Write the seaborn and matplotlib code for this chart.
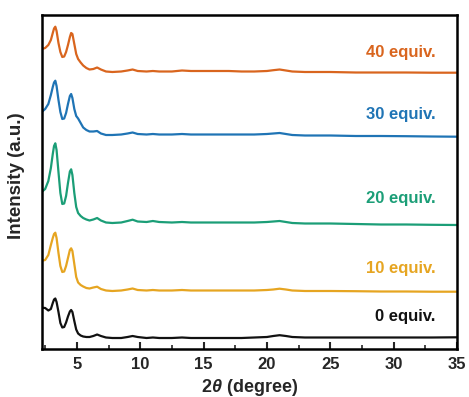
import matplotlib
matplotlib.use("Agg")
import matplotlib.pyplot as plt
import seaborn as sns
import pandas as pd
from matplotlib.ticker import MultipleLocator

# ---- data ----
two_theta = [2.25, 2.5, 2.75, 2.95, 3.1, 3.2, 3.3, 3.4, 3.55, 3.7, 3.85, 4.0, 4.15, 4.3,
             4.45, 4.55, 4.65, 4.8, 4.95, 5.1, 5.3, 5.5, 5.75, 6.0, 6.3, 6.6, 6.9, 7.3,
             7.8, 8.5, 9.0, 9.4, 9.8, 10.5, 11.0, 11.5, 12.5, 13.3, 14, 15, 16, 17, 18,
             19, 20, 20.5, 21, 21.5, 22, 23, 25, 27, 29, 31, 33, 35]

equiv_40 = [300, 301, 304, 309, 316, 320.5, 322.3, 318, 306, 297, 292, 292.5, 297, 304,
            312, 316, 315, 305, 295, 290, 286.5, 283.5, 281, 279.5, 280, 281.5, 279.5, 277.5,
            277, 277.5, 278.5, 279.5, 278, 277.5, 278, 277.5, 277.5, 278.5, 278, 278, 278, 278, 277.5,
            277.5, 278, 278.8, 279.5, 278.5, 277.5, 277, 277, 276.5, 276.5, 276.5, 276.3, 276.3]

equiv_30 = [237.3, 240, 245, 254, 262, 266.5, 268.3, 263, 249, 237, 230, 230.5, 236, 245,
            253, 255, 251, 240, 233, 230.5, 226, 221.5, 219, 217.5, 217.5, 218, 215.5, 214,
            214, 214.5, 215.5, 216.5, 215, 214.5, 215, 214.5, 214.5, 215, 214.5, 214.5, 214.5, 214.5, 214.5,
            214.5, 215, 215.5, 216, 215, 214, 213.5, 213.5, 213, 213, 212.8, 212.5, 212.3]

equiv_20 = [157.3, 160, 168, 181, 195, 203, 205.7, 199, 177, 156, 145, 145.5, 153, 166,
            177.5, 179.7, 174, 156, 142, 136, 133, 131, 129.5, 128.5, 129.5, 131, 128.5, 126.5,
            126, 126.5, 128, 129.3, 127.5, 127, 128, 127, 126.5, 127, 126.5, 126.5, 126.5, 126.5, 126.5,
            126.5, 127, 127.5, 128, 127, 126, 125.5, 125.5, 125, 124.5, 124.5, 124.2, 124]

equiv_10 = [88.3, 89, 94, 104, 111, 115, 116.3, 111, 96, 83, 77, 77.5, 83, 91,
            99, 100.7, 98, 85, 72, 66.5, 64, 62.5, 61, 60.5, 61.5, 62.3, 60, 58.5,
            58, 58.5, 59.5, 60.5, 59, 58.5, 59, 58.5, 58.5, 59, 58.5, 58.5, 58.5, 58.5, 58.5,
            58.5, 59, 59.5, 60.3, 59.5, 58.5, 58, 58, 57.8, 57.5, 57.5, 57.3, 57.3]

equiv_0 = [41.3, 41, 38.5, 40, 46, 49.5, 50.5, 47, 37, 26, 21.5, 22, 26.5, 32.5,
           37.5, 39, 37, 28, 19.5, 15.5, 13.5, 12.5, 12, 12, 13, 14.5, 13, 11.5,
           11, 11, 12, 13, 12, 11, 11.5, 11, 11, 11.5, 11, 11, 11, 11, 11,
           11.5, 12, 13, 13.8, 13, 12, 11.5, 11.5, 11.5, 11.5, 11.5, 11.5, 11.7]

series_names = ["0 equiv.", "10 equiv.", "20 equiv.", "30 equiv.", "40 equiv."]
series_values = [equiv_0, equiv_10, equiv_20, equiv_30, equiv_40]
series_colors = ["#111111", "#E6A521", "#1B9E77", "#1F74B5", "#D9651E"]
label_y = [32, 81, 150, 234, 297]

# ---- style ----
sns.set_style("white")
plt.rcParams["font.family"] = ["Liberation Sans", "DejaVu Sans"]
plt.rcParams["font.weight"] = "bold"
plt.rcParams["mathtext.fontset"] = "custom"
plt.rcParams["mathtext.it"] = "Liberation Sans:italic:bold"
plt.rcParams["mathtext.rm"] = "Liberation Sans:bold"

fig = plt.figure(figsize=(4.69, 3.97), dpi=100)
ax = fig.add_axes([42 / 469, 1 - 349 / 397, (457 - 42) / 469, (349 - 15) / 397])

frames = []
for name, vals in zip(series_names, series_values):
    frames.append(pd.DataFrame({"two_theta": two_theta, "intensity": vals, "sample": name}))
df = pd.concat(frames, ignore_index=True)

sns.lineplot(data=df, x="two_theta", y="intensity", hue="sample",
             palette=dict(zip(series_names, series_colors)), hue_order=series_names,
             linewidth=1.6, legend=False, ax=ax, sort=False, estimator=None)

for name, color, ly in zip(series_names, series_colors, label_y):
    ax.text(33.3, ly, name, color=color, fontsize=12, fontweight="bold",
            ha="right", va="center")

ax.set_xlim(2.25, 35)
ax.set_ylim(0, 334)
ax.set_yticks([])
ax.xaxis.set_major_locator(MultipleLocator(5))
ax.xaxis.set_minor_locator(MultipleLocator(2.5))
ax.tick_params(axis="x", which="major", direction="in", length=5, width=1.5,
               labelsize=12, pad=6, bottom=True, top=False)
ax.tick_params(axis="x", which="minor", direction="in", length=3, width=1.2,
               bottom=True, top=False)
for lbl in ax.get_xticklabels():
    lbl.set_fontweight("bold")
for sp in ax.spines.values():
    sp.set_visible(True)
    sp.set_color("black")
    sp.set_linewidth(1.8)

ax.set_xlabel(r"2$\mathit{\theta}$ (degree)", fontsize=13, fontweight="bold", labelpad=3)
ax.set_ylabel("Intensity (a.u.)", fontsize=13.5, fontweight="bold")
ax.yaxis.set_label_coords(-0.04, 0.52)

fig.savefig("out.png", dpi=100)
